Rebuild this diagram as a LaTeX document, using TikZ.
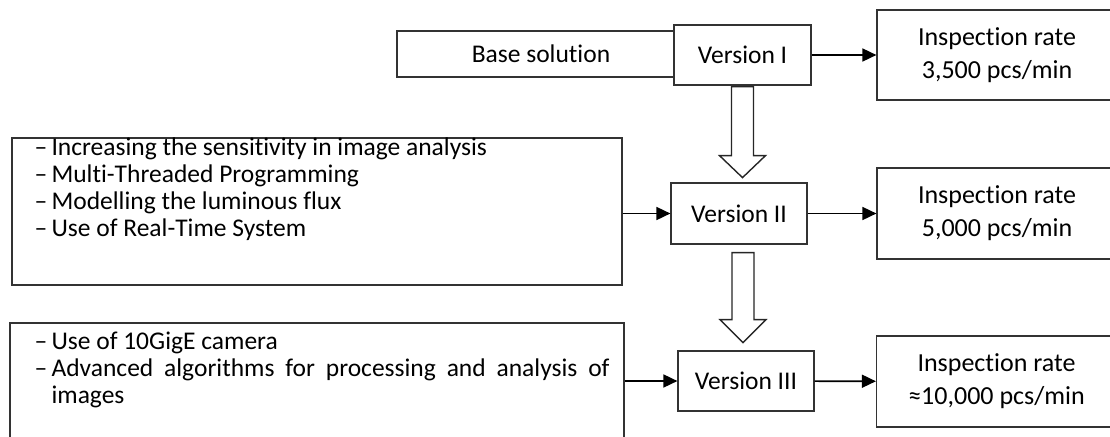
\documentclass[tikz,border=0pt]{standalone}
\usepackage{fontspec}
\setmainfont{Carlito}[Ligatures=NoCommon]
\usetikzlibrary{arrows.meta,calc}

\tikzset{
  box/.style={draw=black!80, line width=1.2pt, rectangle, inner sep=0pt, fill=white},
  verbox/.style={box, minimum width=137pt, minimum height=60pt},
  ratebox/.style={box, minimum width=240pt, minimum height=90pt, align=center, font=\fontsize{26}{33}\selectfont},
  listtext/.style={anchor=north west, inner sep=0pt, align=left, font=\fontsize{25.5}{27}\selectfont},
  flow/.style={line width=1.7pt, -{Triangle[length=14pt,width=13pt]}},
  hollow/.style={draw=black!85, line width=1.4pt, fill=white, line join=miter},
}

\begin{document}
\begin{tikzpicture}[x=1pt, y=-1pt, font=\fontsize{25.5}{27}\selectfont]
  \useasboundingbox (0,0) rectangle (1110,436);

  % middle column
  \node (base) [box, minimum width=288pt, minimum height=46pt] at (541,54) {Base solution};
  \node (v1) [verbox] at (742.5,55) {Version I};
  \node (v2) [verbox, minimum width=136pt, minimum height=61pt] at (739,213.5) {Version II};
  \node (v3) [verbox, minimum width=136pt] at (746,381) {Version III};

  % results
  \node (r1) [ratebox] at (997,55) {Inspection rate\\3,500 pcs/min};
  \node (r2) [ratebox, minimum height=91pt] at (997,213.5) {Inspection rate\\5,000 pcs/min};
  \node (r3) [ratebox, minimum height=91pt] at (996.5,381.5) {Inspection rate\\≈10,000 pcs/min};

  % lists of changes
  \node (list2) [box, minimum width=610pt, minimum height=147pt] at (317,211.5) {};
  \node (list2txt) [listtext] at ([xshift=23pt]list2.north west) {\rule{0pt}{18pt}–\,Increasing the sensitivity in image analysis\\
    –\,Multi-Threaded Programming\\
    –\,Modelling the luminous flux\\
    –\,Use of Real-Time System};
  \node (list3) [box, minimum width=614pt, minimum height=120pt] at (317,383) {};
  \node (list3txt) [listtext] at ([xshift=25pt]list3.north west) {\rule{0pt}{27pt}–\,Use of 10GigE camera\\
    \makebox[575pt][s]{–\,Advanced algorithms for processing and analysis of}\\
    \phantom{–\,}images};

  \draw[flow] (v1) -- (r1);
  \draw[flow] (v2) -- (r2);
  \draw[flow] (v3) -- (r3);
  \draw[flow] (list2.east |- v2) -- (v2);
  \draw[flow] (list3.east |- v3) -- (v3);

  % hollow arrows between versions
  \draw[hollow] ($(v1.south)+(-11,1)$) -- ++(0,69) -- ++(-12,0) -- ++(23,22) -- ++(23,-22) -- ++(-12,0) -- ++(0,-69) -- cycle;
  \draw[hollow] ($(v2.south)+(-7,8)$) -- ++(0,67) -- ++(-12,0) -- ++(23,23) -- ++(23,-23) -- ++(-12,0) -- ++(0,-67) -- cycle;
\end{tikzpicture}
\end{document}
